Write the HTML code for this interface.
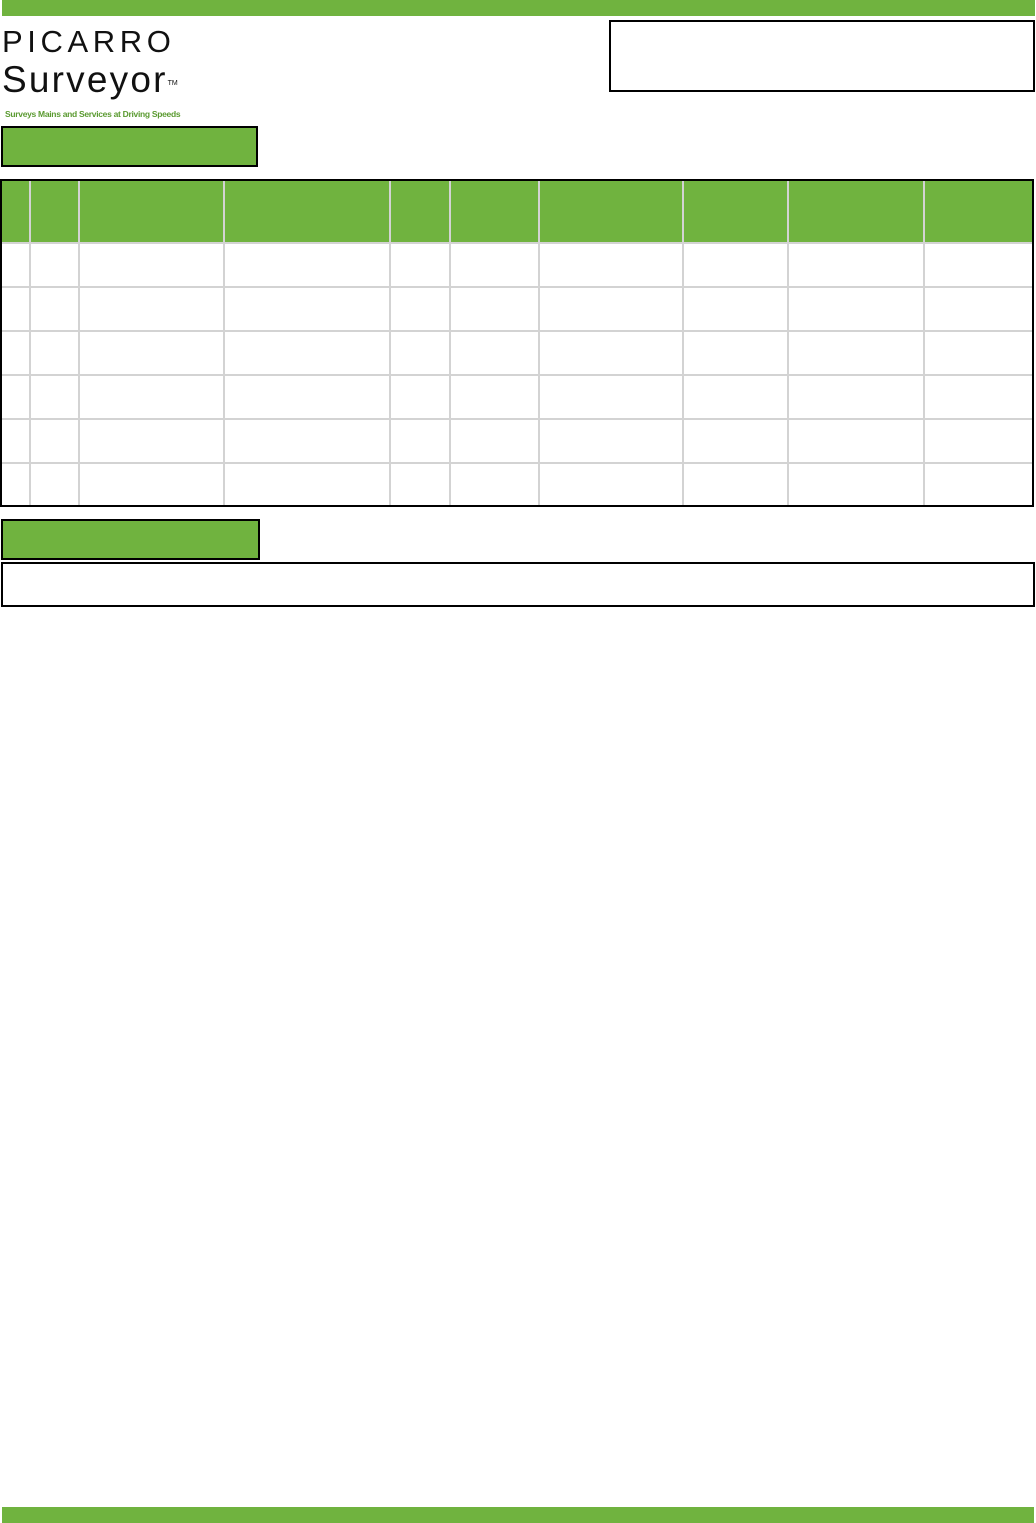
<!DOCTYPE html>
<html><head><meta charset="utf-8"><style>
html,body{margin:0;padding:0;background:#fff;}
body{width:1036px;height:1523px;position:relative;overflow:hidden;font-family:"Liberation Sans",sans-serif;}
.a{position:absolute;box-sizing:border-box;}
.g{background:#70b33f;}
.vl{position:absolute;top:0;bottom:0;width:2px;background:#d3d3d3;}
.hl{position:absolute;left:0;right:0;height:2px;background:#d3d3d3;}
</style></head><body>
<div class="a g" style="left:2px;top:0;width:1033px;height:16px"></div>
<div class="a" style="left:2px;top:22px;width:200px;height:100px">
  <div style="position:absolute;left:0;top:3px;font-size:31px;letter-spacing:4.6px;color:#111;line-height:34px">PICARRO</div>
  <div style="position:absolute;left:0;top:37px;font-size:37px;letter-spacing:2.2px;color:#111;line-height:42px">Surveyor<sup style="font-size:7px;vertical-align:top;position:relative;top:4px;letter-spacing:0">TM</sup></div>
  <div style="position:absolute;left:3px;top:87px;font-size:8.5px;font-weight:bold;color:#5a9a30;white-space:nowrap;letter-spacing:-0.3px">Surveys Mains and Services at Driving Speeds</div>
</div>
<div class="a" style="left:609px;top:20px;width:426px;height:72px;border:2px solid #000"></div>
<div class="a g" style="left:1px;top:126px;width:257px;height:41px;border:2px solid #000"></div>
<div class="a" style="left:0;top:179px;width:1034px;height:328px;border:2px solid #000">
  <div class="a g" style="left:0;top:0;width:100%;height:61px"></div>
  <div class="hl" style="top:61px"></div>
  <div class="hl" style="top:105px"></div>
  <div class="hl" style="top:149px"></div>
  <div class="hl" style="top:193px"></div>
  <div class="hl" style="top:237px"></div>
  <div class="hl" style="top:281px"></div>
  <div class="vl" style="left:27px"></div>
  <div class="vl" style="left:76px"></div>
  <div class="vl" style="left:221px"></div>
  <div class="vl" style="left:387px"></div>
  <div class="vl" style="left:447px"></div>
  <div class="vl" style="left:536px"></div>
  <div class="vl" style="left:680px"></div>
  <div class="vl" style="left:785px"></div>
  <div class="vl" style="left:921px"></div>
</div>
<div class="a g" style="left:1px;top:519px;width:259px;height:41px;border:2px solid #000"></div>
<div class="a" style="left:1px;top:562px;width:1034px;height:45px;border:2px solid #000"></div>
<div class="a g" style="left:2px;top:1507px;width:1032px;height:16px"></div>
</body></html>
